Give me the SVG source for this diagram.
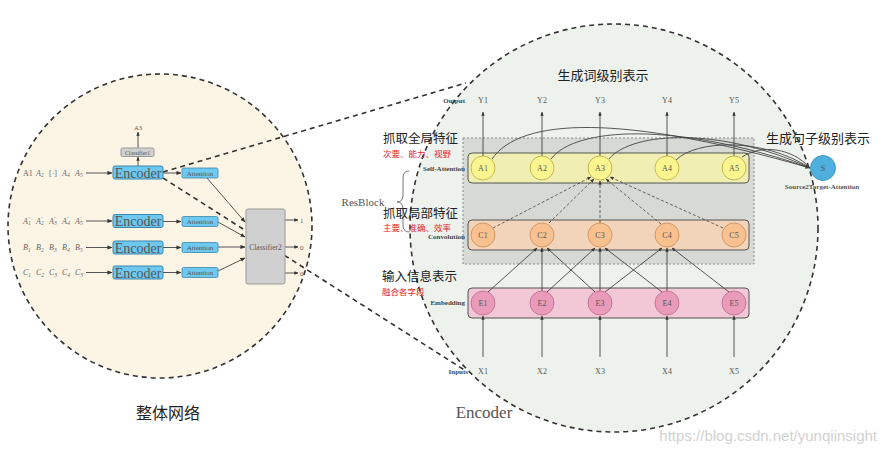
<svg xmlns="http://www.w3.org/2000/svg" width="886" height="454" viewBox="0 0 886 454">
<defs>
<marker id="ar" viewBox="0 0 6 6" refX="5.5" refY="3" markerWidth="5" markerHeight="5" orient="auto" markerUnits="userSpaceOnUse">
<path d="M0,0.5 L6,3 L0,5.5 z" fill="#333"/>
</marker>
<marker id="ars" viewBox="0 0 6 6" refX="5.5" refY="3" markerWidth="4" markerHeight="4" orient="auto" markerUnits="userSpaceOnUse">
<path d="M0,0.5 L6,3 L0,5.5 z" fill="#333"/>
</marker>
<style>
.big{fill:none;stroke:#333;stroke-width:1.6;stroke-dasharray:5,4}
.circ{stroke:#333;stroke-width:1.6;stroke-dasharray:5,4}
.ln{fill:none;stroke:#444;stroke-width:0.9}
.dl{fill:none;stroke:#444;stroke-width:0.8;stroke-dasharray:3,2}
.enc{fill:#6dc9ef;stroke:#3a86ad;stroke-width:1}
.att{fill:#6dc9ef;stroke:#3a86ad;stroke-width:0.8}
.cls{fill:#d0d0d0;stroke:#9a9a9a;stroke-width:1}
.serif{font-family:"Liberation Serif","DejaVu Serif",serif;fill:#555}
.t8{font-size:8px}
.t7{font-size:7px}
.lab{font-family:"Liberation Serif","DejaVu Serif",serif;font-size:7px;font-weight:bold;fill:#444;text-anchor:end}
.nd{font-family:"Liberation Serif","DejaVu Serif",serif;font-size:8px;fill:#555;text-anchor:middle}
.cjk{font-family:"Noto Sans CJK SC","Noto Sans",sans-serif;fill:#222}
.red{font-family:"Noto Sans CJK SC","Noto Sans",sans-serif;fill:#e02828;font-size:8.5px}
.an{fill:#fbf58f;stroke:#b8ab40;stroke-width:0.8}
.cn{fill:#f9c18f;stroke:#c98b58;stroke-width:0.8}
.en{fill:#ea9bba;stroke:#b86c8a;stroke-width:0.8}
.band{stroke:#555;stroke-width:1}
.in{font-family:"Liberation Serif","DejaVu Serif",serif;font-size:8px;font-style:italic;fill:#666}
.sub{font-size:5.5px}
</style>
</defs>
<rect width="886" height="454" fill="#ffffff"/>

<!-- circles -->
<circle cx="614" cy="228" r="204" fill="#eef2ec" class="circ"/>
<circle cx="160" cy="226" r="152" fill="#fcf4e4" class="circ"/>

<!-- big zoom dashed lines -->
<g id="zoom-lines">
<line x1="163" y1="172" x2="466" y2="83" class="big"/>
<line x1="163" y1="178" x2="466" y2="371" class="big"/>
</g>

<!-- right side: resblock box and bands -->
<g id="resblock">
<rect x="463" y="138" width="291" height="126" fill="#d6d9d4" stroke="#8a8a8a" stroke-width="1" stroke-dasharray="2,2"/>
<path d="M409,171 Q403,171 403,178 L403,195 Q403,202 397,202 Q403,202 403,209 L403,225 Q403,232 409,232" fill="none" stroke="#666" stroke-width="0.9"/>
<text x="363" y="206" class="serif" font-size="11" text-anchor="middle" fill="#555">ResBlock</text>
</g>
<g id="self-attention-band"><rect x="468" y="153" width="281" height="30" rx="4" fill="#f1eeb4" class="band"/><text x="465" y="171" class="lab">Self-Attention</text></g>
<g id="convolution-band"><rect x="468" y="220" width="281" height="30" rx="4" fill="#f2d4ba" class="band"/><text x="465" y="239" class="lab">Convolution</text></g>
<g id="embedding-band"><rect x="468" y="288" width="281" height="30" rx="4" fill="#f2c8d6" class="band"/><text x="465" y="305" class="lab">Embedding</text></g>

<!-- connectors -->
<g id="connectors">
<line x1="86" y1="173" x2="112" y2="173" class="ln" marker-end="url(#ar)"/>
<line x1="86" y1="221" x2="112" y2="221" class="ln" marker-end="url(#ar)"/>
<line x1="86" y1="247.5" x2="112" y2="247.5" class="ln" marker-end="url(#ar)"/>
<line x1="86" y1="272.5" x2="112" y2="272.5" class="ln" marker-end="url(#ar)"/>
<line x1="163" y1="173" x2="181" y2="173" class="ln" marker-end="url(#ar)"/>
<line x1="163" y1="221.5" x2="181" y2="221.5" class="ln" marker-end="url(#ar)"/>
<line x1="163" y1="247.5" x2="181" y2="247.5" class="ln" marker-end="url(#ar)"/>
<line x1="163" y1="272.5" x2="181" y2="272.5" class="ln" marker-end="url(#ar)"/>
<line x1="138" y1="166" x2="138" y2="157" class="ln" marker-end="url(#ars)"/>
<line x1="138" y1="148" x2="138" y2="132" class="ln" marker-end="url(#ars)"/>
<line x1="207" y1="178" x2="245" y2="222" class="ln" marker-end="url(#ar)"/>
<line x1="218" y1="222" x2="245" y2="237" class="ln" marker-end="url(#ar)"/>
<line x1="218" y1="247" x2="245" y2="247" class="ln" marker-end="url(#ar)"/>
<line x1="218" y1="271" x2="245" y2="258" class="ln" marker-end="url(#ar)"/>
<line x1="285" y1="220" x2="298" y2="220" class="ln" marker-end="url(#ars)"/>
<line x1="285" y1="247" x2="298" y2="247" class="ln" marker-end="url(#ars)"/>
<line x1="285" y1="273" x2="298" y2="273" class="ln" marker-end="url(#ars)"/>
<line x1="483" y1="156" x2="483" y2="112" class="ln" marker-end="url(#ars)"/>
<line x1="542" y1="156" x2="542" y2="112" class="ln" marker-end="url(#ars)"/>
<line x1="600" y1="156" x2="600" y2="112" class="ln" marker-end="url(#ars)"/>
<line x1="667" y1="156" x2="667" y2="112" class="ln" marker-end="url(#ars)"/>
<line x1="734" y1="156" x2="734" y2="112" class="ln" marker-end="url(#ars)"/>
<line x1="483" y1="357" x2="483" y2="316" class="ln" marker-end="url(#ars)"/>
<line x1="542" y1="357" x2="542" y2="316" class="ln" marker-end="url(#ars)"/>
<line x1="600" y1="357" x2="600" y2="316" class="ln" marker-end="url(#ars)"/>
<line x1="667" y1="357" x2="667" y2="316" class="ln" marker-end="url(#ars)"/>
<line x1="734" y1="357" x2="734" y2="316" class="ln" marker-end="url(#ars)"/>
<line x1="488" y1="292" x2="537" y2="248" class="ln" marker-end="url(#ars)"/>
<line x1="542" y1="291" x2="542" y2="248" class="ln" marker-end="url(#ars)"/>
<line x1="547" y1="292" x2="595" y2="248" class="ln" marker-end="url(#ars)"/>
<line x1="595" y1="292" x2="547" y2="248" class="ln" marker-end="url(#ars)"/>
<line x1="600" y1="291" x2="600" y2="248" class="ln" marker-end="url(#ars)"/>
<line x1="605" y1="292" x2="662" y2="248" class="ln" marker-end="url(#ars)"/>
<line x1="662" y1="292" x2="605" y2="248" class="ln" marker-end="url(#ars)"/>
<line x1="667" y1="291" x2="667" y2="248" class="ln" marker-end="url(#ars)"/>
<line x1="729" y1="292" x2="672" y2="248" class="ln" marker-end="url(#ars)"/>
<line x1="493" y1="228" x2="591" y2="177" class="dl" marker-end="url(#ars)"/>
<line x1="549" y1="223" x2="594" y2="179" class="dl" marker-end="url(#ars)"/>
<line x1="600" y1="223" x2="600" y2="181" class="dl" marker-end="url(#ars)"/>
<line x1="661" y1="224" x2="606" y2="179" class="dl" marker-end="url(#ars)"/>
<line x1="723" y1="228" x2="610" y2="177" class="dl" marker-end="url(#ars)"/>
<path d="M492,159 C520,118 620,113 810,168" class="ln" marker-end="url(#ar)"/>
<path d="M551,159 C575,127 675,121 810,168" class="ln"/>
<path d="M609,159 C632,131 722,127 810,168" class="ln"/>
<path d="M676,160 C696,140 762,137 810,168" class="ln"/>
<path d="M742,157 C762,144 792,148 810,168" class="ln"/>
</g>

<!-- left network nodes -->
<g id="enc1"><rect x="113" y="166" width="50" height="13" rx="2" class="enc"/><text x="138" y="177.5" class="serif" font-size="14" text-anchor="middle" fill="#1d3f5a">Encoder</text></g>
<g id="enc2"><rect x="113" y="214.5" width="50" height="13" rx="2" class="enc"/><text x="138" y="226" class="serif" font-size="14" text-anchor="middle" fill="#1d3f5a">Encoder</text></g>
<g id="enc3"><rect x="113" y="241" width="50" height="13" rx="2" class="enc"/><text x="138" y="252.5" class="serif" font-size="14" text-anchor="middle" fill="#1d3f5a">Encoder</text></g>
<g id="enc4"><rect x="113" y="266" width="50" height="13" rx="2" class="enc"/><text x="138" y="277.5" class="serif" font-size="14" text-anchor="middle" fill="#1d3f5a">Encoder</text></g>
<g id="att1"><rect x="182" y="168" width="36" height="10" rx="1.5" class="att"/><text x="200" y="175.8" class="serif t7" text-anchor="middle" fill="#1d3f5a">Attention</text></g>
<g id="att2"><rect x="182" y="216.5" width="36" height="10" rx="1.5" class="att"/><text x="200" y="224.3" class="serif t7" text-anchor="middle" fill="#1d3f5a">Attention</text></g>
<g id="att3"><rect x="182" y="242.5" width="36" height="10" rx="1.5" class="att"/><text x="200" y="250.3" class="serif t7" text-anchor="middle" fill="#1d3f5a">Attention</text></g>
<g id="att4"><rect x="182" y="267.5" width="36" height="10" rx="1.5" class="att"/><text x="200" y="275.3" class="serif t7" text-anchor="middle" fill="#1d3f5a">Attention</text></g>
<g id="classifier1"><rect x="121" y="148" width="33" height="8.5" rx="1.5" class="cls"/><text x="137.5" y="154.5" class="serif" font-size="5.8" text-anchor="middle">Classifier1</text><text x="138" y="130" class="serif" font-size="6.5" text-anchor="middle">A3</text></g>
<g id="classifier2"><rect x="246" y="209" width="39" height="75" rx="2" class="cls"/><text x="265.5" y="250" class="serif" font-size="7.5" text-anchor="middle">Classifier2</text>
<text x="300" y="222.5" class="serif t7">1</text><text x="300" y="249.5" class="serif t7">0</text><text x="300" y="275.5" class="serif t7">0</text></g>

<g id="inputs-left">
<text y="175.5" class="in"><tspan x="23" font-style="normal">A1</tspan><tspan x="36">A</tspan><tspan class="sub" dy="1.5">2</tspan><tspan x="49" dy="-1.5" font-style="normal">[·]</tspan><tspan x="62">A</tspan><tspan class="sub" dy="1.5">4</tspan><tspan x="75" dy="-1.5">A</tspan><tspan class="sub" dy="1.5">5</tspan></text>
<text y="223.5" class="in"><tspan x="23">A</tspan><tspan class="sub" dy="-3">′</tspan><tspan class="sub" dx="-1" dy="4.5">1</tspan><tspan x="36" dy="-1.5">A</tspan><tspan class="sub" dy="-3">′</tspan><tspan class="sub" dx="-1" dy="4.5">2</tspan><tspan x="49" dy="-1.5">A</tspan><tspan class="sub" dy="-3">′</tspan><tspan class="sub" dx="-1" dy="4.5">3</tspan><tspan x="62" dy="-1.5">A</tspan><tspan class="sub" dy="-3">′</tspan><tspan class="sub" dx="-1" dy="4.5">4</tspan><tspan x="75" dy="-1.5">A</tspan><tspan class="sub" dy="-3">′</tspan><tspan class="sub" dx="-1" dy="4.5">5</tspan></text>
<text y="250" class="in"><tspan x="23">B</tspan><tspan class="sub" dy="1.5">1</tspan><tspan x="36" dy="-1.5">B</tspan><tspan class="sub" dy="1.5">2</tspan><tspan x="49" dy="-1.5">B</tspan><tspan class="sub" dy="1.5">3</tspan><tspan x="62" dy="-1.5">B</tspan><tspan class="sub" dy="1.5">4</tspan><tspan x="75" dy="-1.5">B</tspan><tspan class="sub" dy="1.5">5</tspan></text>
<text y="275" class="in"><tspan x="23">C</tspan><tspan class="sub" dy="1.5">1</tspan><tspan x="36" dy="-1.5">C</tspan><tspan class="sub" dy="1.5">2</tspan><tspan x="49" dy="-1.5">C</tspan><tspan class="sub" dy="1.5">3</tspan><tspan x="62" dy="-1.5">C</tspan><tspan class="sub" dy="1.5">4</tspan><tspan x="75" dy="-1.5">C</tspan><tspan class="sub" dy="1.5">5</tspan></text>
</g>

<!-- right nodes -->
<g id="A1"><circle cx="483" cy="168" r="12" class="an"/><text x="483" y="171" class="nd">A1</text></g>
<g id="A2"><circle cx="542" cy="168" r="12" class="an"/><text x="542" y="171" class="nd">A2</text></g>
<g id="A3"><circle cx="600" cy="168" r="12" class="an"/><text x="600" y="171" class="nd">A3</text></g>
<g id="A4"><circle cx="667" cy="168" r="12" class="an"/><text x="667" y="171" class="nd">A4</text></g>
<g id="A5"><circle cx="734" cy="168" r="12" class="an"/><text x="734" y="171" class="nd">A5</text></g>
<g id="C1"><circle cx="483" cy="235" r="12" class="cn"/><text x="483" y="238" class="nd">C1</text></g>
<g id="C2"><circle cx="542" cy="235" r="12" class="cn"/><text x="542" y="238" class="nd">C2</text></g>
<g id="C3"><circle cx="600" cy="235" r="12" class="cn"/><text x="600" y="238" class="nd">C3</text></g>
<g id="C4"><circle cx="667" cy="235" r="12" class="cn"/><text x="667" y="238" class="nd">C4</text></g>
<g id="C5"><circle cx="734" cy="235" r="12" class="cn"/><text x="734" y="238" class="nd">C5</text></g>
<g id="E1"><circle cx="483" cy="303" r="12" class="en"/><text x="483" y="306" class="nd">E1</text></g>
<g id="E2"><circle cx="542" cy="303" r="12" class="en"/><text x="542" y="306" class="nd">E2</text></g>
<g id="E3"><circle cx="600" cy="303" r="12" class="en"/><text x="600" y="306" class="nd">E3</text></g>
<g id="E4"><circle cx="667" cy="303" r="12" class="en"/><text x="667" y="306" class="nd">E4</text></g>
<g id="E5"><circle cx="734" cy="303" r="12" class="en"/><text x="734" y="306" class="nd">E5</text></g>
<g id="S"><circle cx="823" cy="168" r="12.5" fill="#4fafdf" stroke="#2e8cbc" stroke-width="0.8"/><text x="823" y="171" class="nd" fill="#1d3f5a">S</text>
<text x="822" y="189" class="serif" font-size="7" font-weight="bold" text-anchor="middle" fill="#444">Source2Target-Attention</text></g>

<g id="io-labels">
<text x="465" y="102.5" class="lab">Output</text>
<text x="483" y="102.5" class="nd">Y1</text><text x="542" y="102.5" class="nd">Y2</text><text x="600" y="102.5" class="nd">Y3</text><text x="667" y="102.5" class="nd">Y4</text><text x="734" y="102.5" class="nd">Y5</text>
<text x="468" y="373.5" class="lab">Inputs</text>
<text x="483" y="373.5" class="nd">X1</text><text x="542" y="373.5" class="nd">X2</text><text x="600" y="373.5" class="nd">X3</text><text x="667" y="373.5" class="nd">X4</text><text x="734" y="373.5" class="nd">X5</text>
</g>

<g id="annotations">
<text x="603" y="80" class="cjk" font-size="13" text-anchor="middle">生成词级别表示</text>
<text x="818" y="143" class="cjk" font-size="13" text-anchor="middle">生成句子级别表示</text>
<text x="383" y="143" class="cjk" font-size="12.5">抓取全局特征</text>
<text x="383" y="157" class="red">次要、能力、视野</text>
<text x="383" y="218" class="cjk" font-size="12.5">抓取局部特征</text>
<text x="383" y="231" class="red">主要、准确、效率</text>
<text x="382" y="281" class="cjk" font-size="12.5">输入信息表示</text>
<text x="382" y="295" class="red">融合各字段</text>
<text x="168" y="419" class="cjk" font-size="16" text-anchor="middle">整体网络</text>
<text x="484" y="418" class="serif" font-size="17" text-anchor="middle" fill="#333">Encoder</text>
<text x="877" y="441" font-family="Liberation Sans, Arial, sans-serif" font-size="15" text-anchor="end" fill="#d2d2d2">https://blog.csdn.net/yunqiinsight</text>
</g>
</svg>
